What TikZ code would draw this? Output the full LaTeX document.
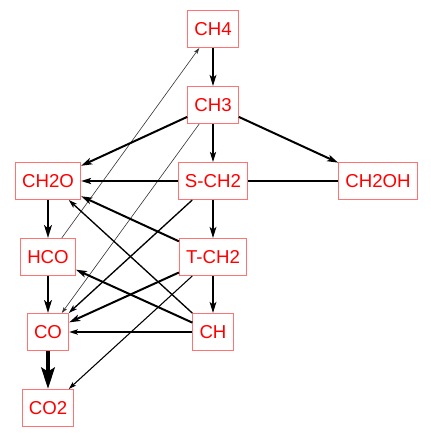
\documentclass[tikz,border=0pt]{standalone}
\usepackage{fontspec}
\setmainfont{Liberation Sans}
\usetikzlibrary{arrows.meta}

\begin{document}
\begin{tikzpicture}[x=0.75pt,y=-0.75pt,
  >={Stealth[length=3pt 3.5,width=2pt 2,inset=0.5pt 1]},
  species/.style={draw=red!55,line width=0.75pt,text=red,
    font=\fontsize{14}{16}\selectfont,
    inner xsep=5pt,inner ysep=0pt,minimum height=27.75pt}]
\useasboundingbox (0,0) rectangle (431,440);

% Specie
\node[species] (CH4)   at (213,29)  {CH4};
\node[species] (CH3)   at (213,105) {CH3};
\node[species] (SCH2)  at (213,181) {S-CH2};
\node[species] (CH2OH) at (378,181) {CH2OH};
\node[species] (CH2O)  at (48,181)  {CH2O};
\node[species] (HCO)   at (48,257)  {HCO};
\node[species] (TCH2)  at (213,257) {T-CH2};
\node[species] (CH)    at (213,332) {CH};
\node[species] (CO)    at (48,332)  {CO};
\node[species] (CO2)   at (48,408)  {CO2};

% Flussi sottili
\draw[->,line width=0.45pt,black!80] (HCO) -- (CH4);
\draw[->,line width=0.45pt,black!80] (CH3) -- (CO);

% Flussi medi
\draw[->,line width=1pt] (CH) -- (CH2O);
\draw[->,line width=1pt] (SCH2) -- (CO);
\draw[->,line width=1pt] (CH) -- (CO);
\draw[->,line width=0.8pt] (TCH2) -- (CO2);

% Flussi principali
\draw[->,line width=1.5pt] (CH4) -- (CH3);
\draw[->,line width=1.3pt] (CH3) -- (SCH2);
\draw[->,line width=1.5pt] (CH3) -- (CH2O);
\draw[->,line width=1.5pt] (CH3) -- (CH2OH);
\draw[->,line width=1.3pt] (SCH2) -- (CH2O);
\draw[line width=1.3pt] (SCH2) -- (CH2OH);
\draw[->,line width=1.5pt] (SCH2) -- (TCH2);
\draw[->,line width=1.5pt] (TCH2) -- (CH);
\draw[->,line width=1.5pt] (TCH2) -- (CH2O);
\draw[->,line width=1.5pt] (TCH2) -- (CO);
\draw[->,line width=1.5pt] (CH) -- (HCO);
\draw[->,line width=1.9pt] (CH2O) -- (HCO);
\draw[->,line width=1.9pt] (HCO) -- (CO);
\draw[-{Stealth[length=16pt,width=10pt,inset=3pt]},line width=3.4pt] (CO) -- (CO2);

\end{tikzpicture}
\end{document}
